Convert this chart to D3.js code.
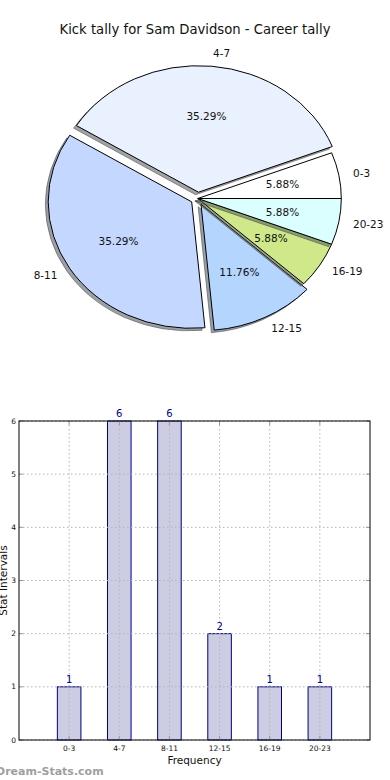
<!DOCTYPE html>
<html><head><meta charset="utf-8">
<script src="https://cdn.jsdelivr.net/npm/d3@7"></script>
<style>body{margin:0;background:#fff}svg{display:block}text{font-family:"DejaVu Sans",sans-serif}</style>
</head><body>
<svg id="c" width="390" height="780"></svg>
<script>
const title = "Kick tally for Sam Davidson - Career tally";
const categories = ["0-3","4-7","8-11","12-15","16-19","20-23"];
const values = [1,6,6,2,1,1];
const pieColors = ["#ffffff","#e9f0fe","#c4d7fe","#b4d5fe","#cfe98a","#dbfffe"];
const explode = [0,0.05,0.05,0.05,0,0];
const yTicks = [0,1,2,3,4,5,6];
const xLabel = "Frequency", yLabel = "Stat Intervals", watermark = "Dream-Stats.com";

const svg = d3.select("#c");
svg.append("text").attr("x",195).attr("y",34).attr("text-anchor","middle")
  .attr("font-size",13.2).attr("fill","#111").text(title);

// Pie
const cx=197.8, cy=198.5, rx=143.5, ry=126.5, R=100;
const pie = d3.pie().sort(null).startAngle(Math.PI/2).endAngle(Math.PI/2-2*Math.PI);
const arcs = pie(values);
const arc = d3.arc().innerRadius(0).outerRadius(R);
const total = d3.sum(values);
const g = svg.append("g");
arcs.forEach((a,i)=>{
  const m=(a.startAngle+a.endAngle)/2;
  const ox = explode[i]*rx*Math.sin(m), oy = -explode[i]*ry*Math.cos(m);
  const c = d3.rgb(pieColors[i]);
  const sc = d3.rgb(c.r*0.3,c.g*0.3,c.b*0.3);
  g.append("path").attr("d",arc(a))
    .attr("transform",`translate(${cx+ox-0.02*rx},${cy+oy+0.02*ry}) scale(${rx/R},${ry/R})`)
    .attr("fill",sc).attr("fill-opacity",0.5).attr("stroke",sc).attr("stroke-opacity",0.5)
    .attr("stroke-width",1).attr("vector-effect","non-scaling-stroke");
  g.append("path").attr("d",arc(a))
    .attr("transform",`translate(${cx+ox},${cy+oy}) scale(${rx/R},${ry/R})`)
    .attr("fill",pieColors[i]).attr("stroke","#000").attr("stroke-width",1)
    .attr("vector-effect","non-scaling-stroke");
});
arcs.forEach((a,i)=>{
  const m=(a.startAngle+a.endAngle)/2, s=Math.sin(m), co=Math.cos(m);
  const ox = explode[i]*rx*s, oy = -explode[i]*ry*co;
  svg.append("text").attr("x",cx+ox+1.1*rx*s).attr("y",cy+oy-1.1*ry*co)
    .attr("text-anchor", s>0?"start":"end").attr("dy","0.35em")
    .attr("font-size",10.5).attr("fill","#111").text(categories[i]);
  svg.append("text").attr("x",cx+ox+0.6*rx*s).attr("y",cy+oy-0.6*ry*co)
    .attr("text-anchor","middle").attr("dy","0.35em")
    .attr("font-size",10.5).attr("fill","#111").text((values[i]/total*100).toFixed(2)+"%");
});

// Bar chart
const L=19,Rr=370,T=421,B=740;
const x = d3.scaleLinear().domain([-1,6]).range([L,Rr]);
const y = d3.scaleLinear().domain([0,6]).range([B,T]);
const bw = x(0.47)-x(0);
const bg = svg.append("g");
bg.selectAll("rect.bar").data(values).join("rect")
  .attr("x",(d,i)=>x(i)-bw/2).attr("y",d=>y(d)).attr("width",bw).attr("height",d=>B-y(d))
  .attr("fill","#ccccE3").attr("stroke","#000080").attr("stroke-width",1);
// grid
bg.selectAll("line.gx").data(categories).join("line")
  .attr("x1",(d,i)=>x(i)).attr("x2",(d,i)=>x(i)).attr("y1",T).attr("y2",B)
  .attr("stroke","#b4b4b4").attr("stroke-dasharray","1.5,2.5");
bg.selectAll("line.gy").data(yTicks).join("line")
  .attr("x1",L).attr("x2",Rr).attr("y1",d=>y(d)).attr("y2",d=>y(d))
  .attr("stroke","#b4b4b4").attr("stroke-dasharray","1.5,2.5");
// ticks inward
categories.forEach((c,i)=>{
  bg.append("line").attr("x1",x(i)).attr("x2",x(i)).attr("y1",B).attr("y2",B-4).attr("stroke","#999");
  bg.append("line").attr("x1",x(i)).attr("x2",x(i)).attr("y1",T).attr("y2",T+4).attr("stroke","#999");
});
yTicks.forEach(t=>{
  bg.append("line").attr("x1",L).attr("x2",L+4).attr("y1",y(t)).attr("y2",y(t)).attr("stroke","#999");
  bg.append("line").attr("x1",Rr).attr("x2",Rr-4).attr("y1",y(t)).attr("y2",y(t)).attr("stroke","#999");
});
bg.append("rect").attr("x",L).attr("y",T).attr("width",Rr-L).attr("height",B-T)
  .attr("fill","none").attr("stroke","#000").attr("stroke-width",1);
// labels
bg.selectAll("text.v").data(values).join("text")
  .attr("x",(d,i)=>x(i)).attr("y",d=>y(d)-4).attr("text-anchor","middle")
  .attr("font-size",10).attr("fill","#00008b").text(d=>d);
bg.selectAll("text.xt").data(categories).join("text")
  .attr("x",(d,i)=>x(i)).attr("y",B+11).attr("text-anchor","middle")
  .attr("font-size",7.5).attr("fill","#111").text(d=>d);
bg.selectAll("text.yt").data(yTicks).join("text")
  .attr("x",L-3).attr("y",d=>y(d)).attr("dy","0.35em").attr("text-anchor","end")
  .attr("font-size",7.5).attr("fill","#111").text(d=>d);
svg.append("text").attr("x",(L+Rr)/2).attr("y",764).attr("text-anchor","middle")
  .attr("font-size",10.5).attr("fill","#111").text(xLabel);
svg.append("text").attr("transform",`translate(7,${(T+B)/2}) rotate(-90)`).attr("text-anchor","middle")
  .attr("font-size",10.5).attr("fill","#111").text(yLabel);
svg.append("text").attr("x",-4).attr("y",775).attr("font-size",11).attr("font-weight","bold")
  .attr("fill","#a0a0a0").text(watermark);
</script>
</body></html>
